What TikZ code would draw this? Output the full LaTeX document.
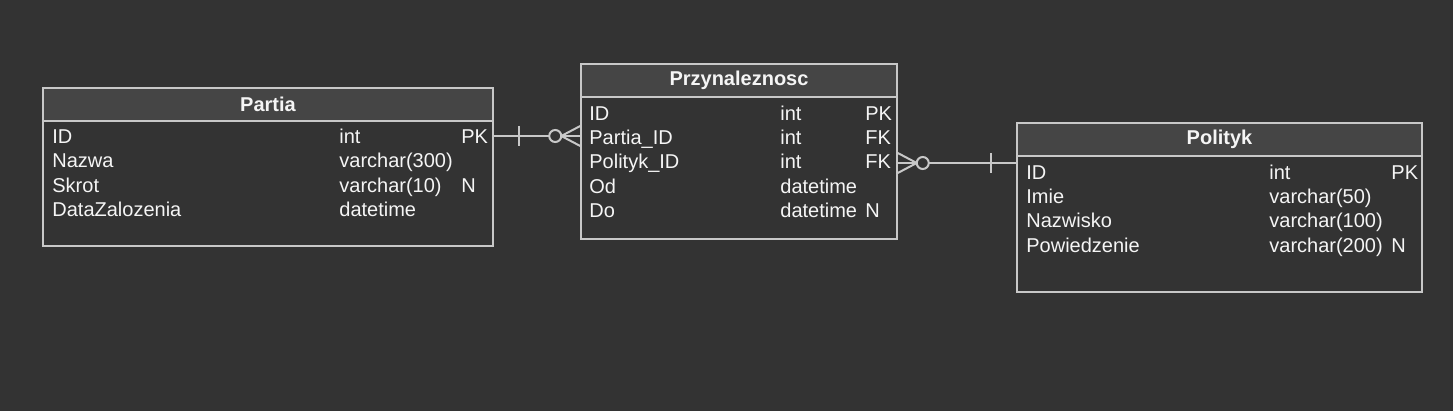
\documentclass[tikz,border=0pt]{standalone}
\usepackage{fontspec}
\setmainfont{Liberation Sans}
\usepackage{tikz}
\usetikzlibrary{positioning, calc}
\usepackage{xcolor}
\definecolor{canvas}{HTML}{333333}
\definecolor{headfill}{HTML}{454545}
\definecolor{edgeline}{HTML}{C8C8C8}
\definecolor{ink}{HTML}{F5F5F5}
\tikzset{
    entity/.style={
        rectangle, draw=edgeline, line width=0.75pt,
        fill=canvas, inner sep=0pt
    },
    entityhead/.style={
        rectangle, draw=edgeline, line width=0.75pt,
        fill=headfill, inner sep=0pt,
        minimum height=16.5pt,
        font=\fontsize{10}{12}\selectfont\bfseries, text=ink
    },
    field/.style={
        anchor=mid west, inner sep=0pt, text=ink
    },
    relline/.style={
        draw=edgeline, line width=1pt
    }
}

\begin{document}
\begin{tikzpicture}[
    x=0.5pt, y=-0.5pt,
    every node/.style={font=\fontsize{10}{12}\selectfont}
]

\fill[canvas] (0,0) rectangle (1453,411);
\useasboundingbox (0,0) rectangle (1453,411);

\node[entity, minimum width=225pt, minimum height=79pt] (partia) at (268,167) {};
\node[entityhead, minimum width=225pt, anchor=north] (partia-head) at (partia.north) {Partia};
\node[field] (partia-id) at (52,138) {ID};
\node[field] at (339,138) {int};
\node[field] at (461,138) {PK};
\node[field] (partia-nazwa) at (52,162) {Nazwa};
\node[field] at (339,162) {varchar(300)};
\node[field] (partia-skrot) at (52,187) {Skrot};
\node[field] at (339,187) {varchar(10)};
\node[field] at (461,187) {N};
\node[field] (partia-data) at (52,211) {DataZalozenia};
\node[field] at (339,211) {datetime};

\node[entity, minimum width=158pt, minimum height=87.5pt] (przyn) at (739,151.5) {};
\node[entityhead, minimum width=158pt, anchor=north] (przyn-head) at (przyn.north) {Przynaleznosc};
\node[field] (przyn-id) at (589,115) {ID};
\node[field] at (780,115) {int};
\node[field] at (865,115) {PK};
\node[field] (przyn-partia) at (589,139) {Partia\_ID};
\node[field] at (780,139) {int};
\node[field] at (865,139) {FK};
\node[field] (przyn-polityk) at (589,163) {Polityk\_ID};
\node[field] at (780,163) {int};
\node[field] at (865,163) {FK};
\node[field] (przyn-od) at (589,188) {Od};
\node[field] at (780,188) {datetime};
\node[field] (przyn-do) at (589,212) {Do};
\node[field] at (780,212) {datetime};
\node[field] at (865,212) {N};

\node[entity, minimum width=202.5pt, minimum height=84.5pt] (polityk) at (1219.5,207.5) {};
\node[entityhead, minimum width=202.5pt, anchor=north] (polityk-head) at (polityk.north) {Polityk};
\node[field] (polityk-id) at (1026,174) {ID};
\node[field] at (1269,174) {int};
\node[field] at (1391,174) {PK};
\node[field] (polityk-imie) at (1026,198) {Imie};
\node[field] at (1269,198) {varchar(50)};
\node[field] (polityk-nazwisko) at (1026,222) {Nazwisko};
\node[field] at (1269,222) {varchar(100)};
\node[field] (polityk-powiedzenie) at (1026,247) {Powiedzenie};
\node[field] at (1269,247) {varchar(200)};
\node[field] at (1391,247) {N};

\coordinate (one-a) at (partia.east |- 0,136);
\coordinate (many-a) at (przyn.west |- 0,136);
\draw[relline] (one-a) -- (many-a);
\draw[relline] ($(one-a)+(25,-10)$) -- ($(one-a)+(25,10)$);
\draw[relline] ($(many-a)+(-19,0)$) -- ($(many-a)+(0,-10)$);
\draw[relline] ($(many-a)+(-19,0)$) -- ($(many-a)+(0,10)$);
\draw[relline, fill=canvas] ($(many-a)+(-25,0)$) circle[radius=3pt];

\coordinate (many-b) at (przyn.east |- 0,163);
\coordinate (one-b) at (polityk.west |- 0,163);
\draw[relline] (many-b) -- (one-b);
\draw[relline] ($(many-b)+(19,0)$) -- ($(many-b)+(0,-10)$);
\draw[relline] ($(many-b)+(19,0)$) -- ($(many-b)+(0,10)$);
\draw[relline, fill=canvas] ($(many-b)+(25,0)$) circle[radius=3pt];
\draw[relline] ($(one-b)+(-25,-10)$) -- ($(one-b)+(-25,10)$);

\end{tikzpicture}
\end{document}
